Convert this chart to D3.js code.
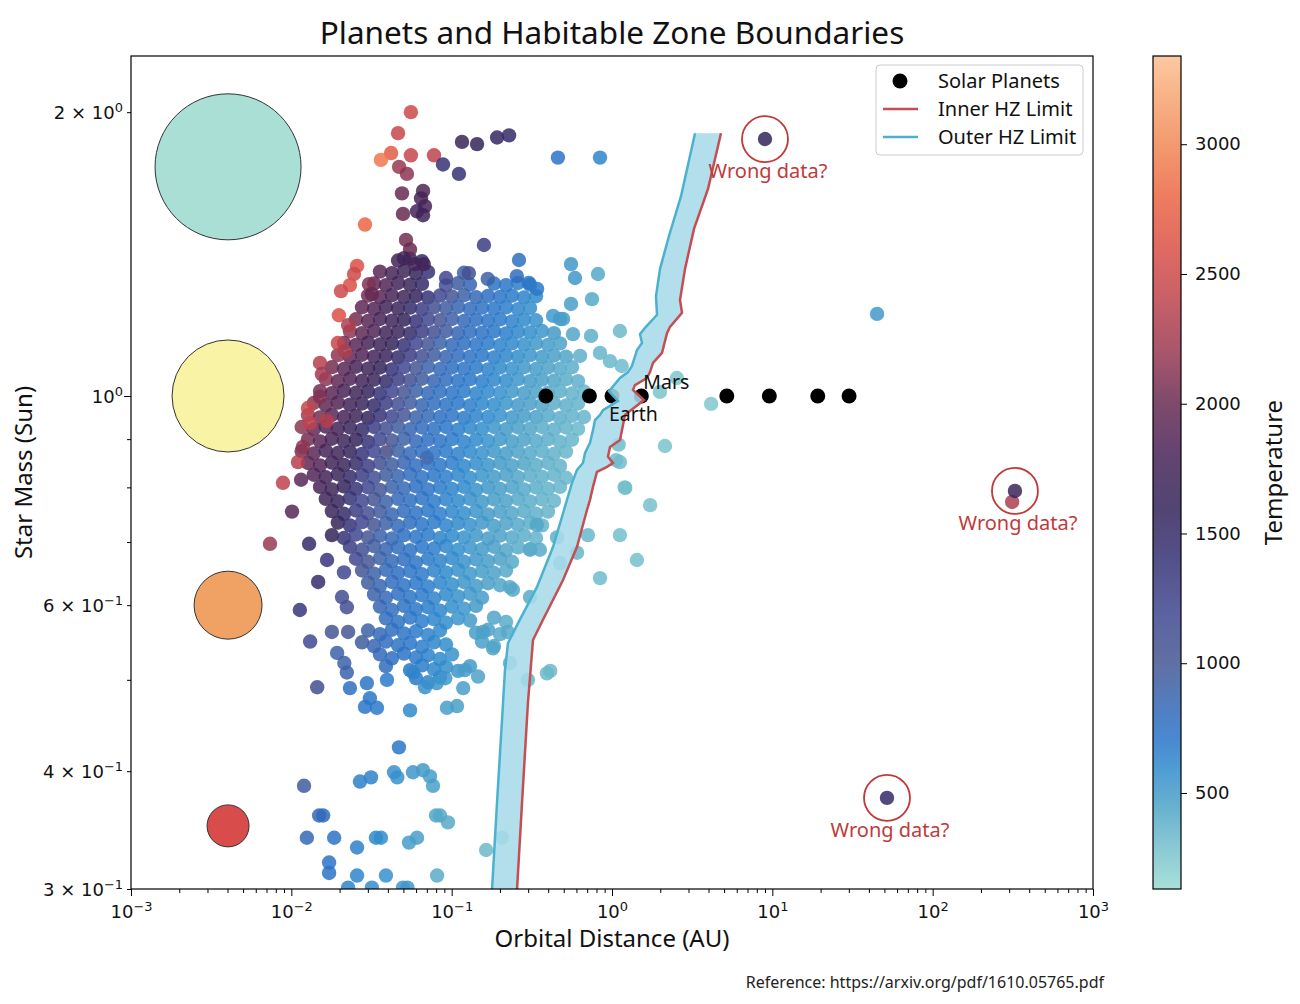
<!DOCTYPE html>
<html>
<head>
<meta charset="utf-8">
<script src="https://cdn.jsdelivr.net/npm/d3@7"></script>
<style>
  body { margin: 0; background: #fff; }
  .lbl { font-family: 'Noto Sans', 'Open Sans', sans-serif; fill: #111; }
</style>
</head>
<body>
<div class="canvas"></div>
<script>
// ---- data: [orbital distance (AU), star mass (Sun), temperature (K)] ----

// hot planets hidden deep in the cloud
const hiddenHot = [[.0401,0.877,3300],[.0702,0.860,2500]];

// dense cloud, upper part (mass > 1.03)
const coreUpper = [
  [.0463,1.392,1750],[.0550,1.398,1650],[.0653,1.390,1500],
  [.0357,1.355,1900],[.0424,1.350,1800],[.0504,1.357,1700],[.0599,1.349,1600],[.0712,1.354,1400],[.1194,1.351,900],
  [.0328,1.316,1950],[.0389,1.311,1850],[.0463,1.318,1750],[.0550,1.312,1650],[.0653,1.315,1500],[.0922,1.310,1100],[.1096,1.317,950],[.1301,1.313,850],[.1837,1.316,740],[.2183,1.311,700],[.2593,1.318,660],[.3081,1.312,620],
  [.0301,1.278,2050],[.0357,1.273,1900],[.0424,1.279,1800],[.0504,1.274,1700],[.0599,1.277,1600],[.0712,1.272,1400],[.0846,1.278,1200],[.1005,1.275,1020],[.1194,1.279,900],[.1419,1.273,820],[.1686,1.277,760],[.2002,1.274,720],[.2379,1.278,680],[.2826,1.272,640],[.3358,1.276,600],
  [.0276,1.242,1950],[.0328,1.237,1850],[.0389,1.243,1750],[.0463,1.238,1650],[.0550,1.241,1500],[.0653,1.236,1300],[.0776,1.242,1100],[.0922,1.239,950],[.1096,1.243,850],[.1301,1.237,780],[.1546,1.241,740],[.1837,1.238,700],[.2183,1.242,660],[.2593,1.236,620],[.3081,1.240,580],
  [.0253,1.206,2050],[.0301,1.201,1900],[.0357,1.207,1800],[.0424,1.202,1700],[.0504,1.205,1600],[.0599,1.200,1400],[.0712,1.206,1200],[.0846,1.203,1020],[.1005,1.207,900],[.1194,1.201,820],[.1419,1.205,760],[.1686,1.202,720],[.2002,1.206,680],[.2379,1.200,640],[.2826,1.205,600],[.3358,1.203,560],[.4740,1.207,490],
  [.0232,1.171,2150],[.0276,1.166,1950],[.0328,1.172,1850],[.0389,1.167,1750],[.0463,1.170,1650],[.0550,1.165,1500],[.0653,1.171,1300],[.0776,1.168,1100],[.0922,1.172,950],[.1096,1.166,850],[.1301,1.170,780],[.1546,1.167,740],[.1837,1.171,700],[.2183,1.165,660],[.2593,1.170,620],[.3081,1.168,580],[.3660,1.172,540],[.4349,1.166,500],
  [.0213,1.138,2050],[.0253,1.133,1900],[.0301,1.139,1800],[.0357,1.134,1700],[.0424,1.137,1600],[.0504,1.132,1400],[.0599,1.138,1200],[.0712,1.135,1020],[.0846,1.139,900],[.1005,1.133,820],[.1194,1.137,760],[.1419,1.134,720],[.1686,1.138,680],[.2002,1.132,640],[.2379,1.137,600],[.2826,1.134,560],[.3358,1.138,520],[.3990,1.133,490],[.4740,1.137,455],
  [.0195,1.105,2150],[.0232,1.100,1950],[.0276,1.106,1850],[.0328,1.101,1750],[.0389,1.104,1650],[.0463,1.099,1500],[.0550,1.105,1300],[.0653,1.102,1100],[.0776,1.106,950],[.0922,1.100,850],[.1096,1.104,780],[.1301,1.101,740],[.1546,1.105,700],[.1837,1.099,660],[.2183,1.104,620],[.2593,1.101,580],[.3081,1.105,540],[.3660,1.100,500],[.4349,1.104,470],[.5167,1.101,440],
  [.0179,1.073,2050],[.0213,1.068,1900],[.0253,1.074,1800],[.0301,1.069,1700],[.0357,1.072,1600],[.0424,1.067,1400],[.0504,1.073,1200],[.0599,1.070,1020],[.0712,1.074,900],[.0846,1.068,820],[.1005,1.072,760],[.1194,1.069,720],[.1419,1.073,680],[.1686,1.067,640],[.2002,1.072,600],[.2379,1.069,560],[.2826,1.073,520],[.3358,1.068,490],[.3990,1.072,455],[.4740,1.069,420],[.5632,1.073,390],
  [.0164,1.042,2150],[.0195,1.037,1950],[.0232,1.043,1850],[.0276,1.038,1750],[.0328,1.041,1650],[.0389,1.036,1500],[.0463,1.042,1300],[.0550,1.039,1100],[.0653,1.043,950],[.0776,1.037,850],[.0922,1.041,780],[.1096,1.038,740],[.1301,1.042,700],[.1546,1.036,660],[.1837,1.041,620],[.2183,1.038,580],[.2593,1.042,540],[.3081,1.037,500],[.3660,1.041,470],[.4349,1.038,440],[.5167,1.042,400],[.6139,1.037,380]
];

// dense cloud, middle part (0.79 - 1.03)
const coreMiddle = [
  [.0151,1.012,2050],[.0179,1.007,1900],[.0213,1.013,1800],[.0253,1.008,1700],[.0301,1.011,1600],[.0357,1.006,1400],[.0424,1.012,1200],[.0504,1.009,1020],[.0599,1.013,900],[.0712,1.007,820],[.0846,1.011,760],[.1005,1.008,720],[.1194,1.012,680],[.1419,1.006,640],[.1686,1.011,600],[.2002,1.008,560],[.2379,1.012,520],[.2826,1.007,490],[.3358,1.011,455],[.3990,1.008,420],[.4740,1.012,390],[.5632,1.006,370],[.6691,1.011,350],
  [.0138,0.983,2150],[.0164,0.978,1950],[.0195,0.984,1850],[.0232,0.979,1750],[.0276,0.982,1650],[.0328,0.977,1500],[.0389,0.983,1300],[.0463,0.980,1100],[.0550,0.984,950],[.0653,0.978,850],[.0776,0.982,780],[.0922,0.979,740],[.1096,0.983,700],[.1301,0.977,660],[.1546,0.982,620],[.1837,0.979,580],[.2183,0.983,540],[.2593,0.978,500],[.3081,0.982,470],[.3660,0.979,440],[.4349,0.983,400],[.5167,0.977,380],[.6139,0.982,360],
  [.0127,0.954,2250],[.0151,0.949,2050],[.0179,0.955,1900],[.0213,0.950,1800],[.0253,0.953,1700],[.0301,0.948,1600],[.0357,0.954,1400],[.0424,0.951,1200],[.0504,0.955,1020],[.0599,0.949,900],[.0712,0.953,820],[.0846,0.950,760],[.1005,0.954,720],[.1194,0.948,680],[.1419,0.953,640],[.1686,0.950,600],[.2002,0.954,560],[.2379,0.949,520],[.2826,0.953,490],[.3358,0.950,455],[.3990,0.954,420],[.4740,0.948,390],[.5632,0.953,370],[.6691,0.950,350],
  [.0116,0.927,2150],[.0138,0.922,1950],[.0164,0.928,1850],[.0195,0.923,1750],[.0232,0.926,1650],[.0276,0.921,1500],[.0328,0.927,1300],[.0389,0.924,1100],[.0463,0.928,950],[.0550,0.922,850],[.0653,0.926,780],[.0776,0.923,740],[.0922,0.927,700],[.1096,0.921,660],[.1301,0.926,620],[.1546,0.923,580],[.1837,0.927,540],[.2183,0.922,500],[.2593,0.926,470],[.3081,0.923,440],[.3660,0.927,400],[.4349,0.921,380],[.5167,0.926,360],[.6139,0.923,340],
  [.0127,0.900,2050],[.0151,0.895,1900],[.0179,0.901,1800],[.0213,0.896,1700],[.0253,0.899,1600],[.0301,0.894,1400],[.0357,0.900,1200],[.0424,0.897,1020],[.0504,0.901,900],[.0599,0.895,820],[.0712,0.899,760],[.0846,0.896,720],[.1005,0.900,680],[.1194,0.894,640],[.1419,0.899,600],[.1686,0.896,560],[.2002,0.900,520],[.2379,0.895,490],[.2826,0.899,455],[.3358,0.896,420],[.3990,0.900,390],[.4740,0.894,370],[.5632,0.899,350],
  [.0116,0.874,2050],[.0138,0.869,1900],[.0164,0.875,1800],[.0195,0.870,1700],[.0232,0.873,1600],[.0276,0.868,1400],[.0328,0.874,1200],[.0389,0.871,1020],[.0463,0.875,900],[.0550,0.869,820],[.0653,0.873,760],[.0776,0.870,720],[.0922,0.874,680],[.1096,0.868,640],[.1301,0.873,600],[.1546,0.870,560],[.1837,0.874,520],[.2183,0.869,490],[.2593,0.873,455],[.3081,0.870,420],[.3660,0.874,390],[.4349,0.868,370],[.5167,0.873,350],
  [.0127,0.849,1950],[.0151,0.844,1850],[.0179,0.850,1750],[.0213,0.845,1650],[.0253,0.848,1500],[.0301,0.843,1300],[.0357,0.849,1100],[.0424,0.846,950],[.0504,0.850,850],[.0599,0.844,780],[.0712,0.848,740],[.0846,0.845,700],[.1005,0.849,660],[.1194,0.843,620],[.1419,0.848,580],[.1686,0.845,540],[.2002,0.849,500],[.2379,0.844,470],[.2826,0.848,440],[.3358,0.845,400],[.3990,0.849,380],[.4740,0.843,360],
  [.0138,0.825,1850],[.0164,0.820,1750],[.0195,0.826,1650],[.0232,0.821,1500],[.0276,0.824,1300],[.0328,0.819,1100],[.0389,0.825,950],[.0463,0.822,850],[.0550,0.826,780],[.0653,0.820,740],[.0776,0.824,700],[.0922,0.821,660],[.1096,0.825,620],[.1301,0.819,580],[.1546,0.824,540],[.1837,0.821,500],[.2183,0.825,470],[.2593,0.820,440],[.3081,0.824,400],[.3660,0.821,380],[.4349,0.825,360],[.5167,0.819,340],
  [.0151,0.801,1800],[.0179,0.796,1700],[.0213,0.802,1600],[.0253,0.797,1400],[.0301,0.800,1200],[.0357,0.795,1020],[.0424,0.801,900],[.0504,0.798,820],[.0599,0.802,760],[.0712,0.796,720],[.0846,0.800,680],[.1005,0.797,640],[.1194,0.801,600],[.1419,0.795,560],[.1686,0.800,520],[.2002,0.797,490],[.2379,0.801,455],[.2826,0.796,420],[.3358,0.800,390],[.3990,0.797,370],[.4740,0.801,350]
];

// dense cloud, lower part (0.50 - 0.79)
const coreLower = [
  [.0164,0.778,1700],[.0195,0.773,1600],[.0232,0.779,1400],[.0276,0.774,1200],[.0328,0.777,1020],[.0389,0.772,900],[.0463,0.778,820],[.0550,0.775,760],[.0653,0.779,720],[.0776,0.773,680],[.0922,0.777,640],[.1096,0.774,600],[.1301,0.778,560],[.1546,0.772,520],[.1837,0.777,490],[.2183,0.774,455],[.2593,0.778,420],[.3081,0.773,390],[.3660,0.777,370],[.4349,0.774,350],
  [.0179,0.755,1650],[.0213,0.750,1500],[.0253,0.756,1300],[.0301,0.751,1100],[.0357,0.754,950],[.0424,0.749,850],[.0504,0.755,780],[.0599,0.752,740],[.0712,0.756,700],[.0846,0.750,660],[.1005,0.754,620],[.1194,0.751,580],[.1419,0.755,540],[.1686,0.749,500],[.2002,0.754,470],[.2379,0.751,440],[.2826,0.755,400],[.3358,0.750,380],[.3990,0.754,360],
  [.0195,0.734,1600],[.0232,0.729,1400],[.0276,0.735,1200],[.0328,0.730,1020],[.0389,0.733,900],[.0463,0.728,820],[.0550,0.734,760],[.0653,0.731,720],[.0776,0.735,680],[.0922,0.729,640],[.1096,0.733,600],[.1301,0.730,560],[.1546,0.734,520],[.1837,0.728,490],[.2183,0.733,455],[.2593,0.730,420],[.3081,0.734,390],[.3660,0.729,370],
  [.0179,0.712,1600],[.0213,0.707,1400],[.0253,0.713,1200],[.0301,0.708,1020],[.0357,0.711,900],[.0424,0.706,820],[.0504,0.712,760],[.0599,0.709,720],[.0712,0.713,680],[.0846,0.707,640],[.1005,0.711,600],[.1194,0.708,560],[.1419,0.712,520],[.1686,0.706,490],[.2002,0.711,455],[.2379,0.708,420],[.2826,0.712,390],[.3358,0.707,370],
  [.0232,0.692,1300],[.0276,0.687,1100],[.0328,0.693,950],[.0389,0.688,850],[.0463,0.691,780],[.0550,0.686,740],[.0653,0.692,700],[.0776,0.689,660],[.0922,0.693,620],[.1096,0.687,580],[.1301,0.691,540],[.1546,0.688,500],[.1837,0.692,470],[.2183,0.686,440],[.2593,0.691,400],[.3081,0.688,380],
  [.0253,0.672,1200],[.0301,0.667,1020],[.0357,0.673,900],[.0424,0.668,820],[.0504,0.671,760],[.0599,0.666,720],[.0712,0.672,680],[.0846,0.669,640],[.1005,0.673,600],[.1194,0.667,560],[.1419,0.671,520],[.1686,0.668,490],[.2002,0.672,455],[.2379,0.667,420],
  [.0276,0.653,1020],[.0328,0.648,900],[.0389,0.654,820],[.0463,0.649,760],[.0550,0.652,720],[.0653,0.647,680],[.0776,0.653,640],[.0922,0.650,600],[.1096,0.654,560],[.1301,0.648,520],[.1546,0.652,490],[.1837,0.649,455],[.2183,0.653,420],
  [.0301,0.634,950],[.0357,0.629,850],[.0424,0.635,780],[.0504,0.630,740],[.0599,0.633,700],[.0712,0.628,660],[.0846,0.634,620],[.1005,0.631,580],[.1194,0.635,540],[.1419,0.629,500],[.1686,0.633,470],[.2002,0.630,440],
  [.0328,0.616,900],[.0389,0.611,820],[.0463,0.617,760],[.0550,0.612,720],[.0653,0.615,680],[.0776,0.610,640],[.0922,0.616,600],[.1096,0.613,560],[.1301,0.617,520],[.1546,0.611,490],
  [.0357,0.598,850],[.0424,0.593,780],[.0504,0.599,740],[.0599,0.594,700],[.0712,0.597,660],[.0846,0.592,620],[.1005,0.598,580],[.1194,0.595,540],[.1419,0.599,500],
  [.0389,0.581,780],[.0463,0.576,740],[.0550,0.582,700],[.0653,0.577,660],[.0776,0.580,620],[.0922,0.575,580],[.1096,0.581,540],[.1301,0.578,500],[.1837,0.582,440],[.2183,0.576,400],
  [.0301,0.564,900],[.0357,0.559,820],[.0424,0.565,760],[.0504,0.560,720],[.0599,0.563,680],[.0712,0.558,640],[.0846,0.564,600],[.1419,0.561,490],[.1686,0.565,455],[.2002,0.559,420],
  [.0276,0.548,950],[.0328,0.543,850],[.0389,0.549,780],[.0463,0.544,740],[.0550,0.547,700],[.0653,0.542,660],[.0776,0.548,620],[.0922,0.545,580],[.1546,0.549,470],[.1837,0.543,440],
  [.0357,0.532,820],[.0424,0.527,760],[.0504,0.533,720],[.0599,0.528,680],[.0712,0.531,640],[.0846,0.526,600],[.1005,0.532,560],
  [.0389,0.517,780],[.0550,0.512,700],[.0653,0.518,660],[.0776,0.513,620],[.0922,0.516,580],[.1096,0.511,540],[.1301,0.517,500],
  [.0599,0.502,680],[.0712,0.497,640],[.0846,0.503,600]
];

// sparse planets around massive stars (top of the plot)
const highMass = [
  [.0557,2.00,2500],[.0463,1.90,2450],[.0419,1.81,2700],[.0362,1.78,2900],[.0557,1.80,2450],[.0776,1.80,2400],
  [.0470,1.75,2200],[.0526,1.72,2150],[.0490,1.64,2000],[.0663,1.65,1850],[.0644,1.62,1800],[.0682,1.59,1800],
  [.0608,1.57,1750],[.0663,1.555,1700],[.0497,1.56,2000],[.0288,1.52,2800],[.116,1.86,1650],[.144,1.85,1600],
  [.192,1.88,1550],[.228,1.89,1500],[.0883,1.76,1400],[.111,1.72,1400],[.460,1.79,720],[.842,1.79,620],
  [.159,1.446,1300],[.0519,1.464,2050],[.0550,1.43,2000],[.0504,1.40,1700],[.0590,1.38,1750],[.0670,1.38,1750]
];

// hottest planets along the left edge of the cloud
const hotEdge = [
  [.0257,1.374,2600],[.0246,1.347,2500],[.0232,1.311,2600],[.0204,1.292,2500],[.0305,1.314,2100],[.0318,1.282,2000],
  [.0198,1.218,2600],[.0226,1.189,2300],[.0195,1.138,2450],[.0216,1.116,2300],[.0151,1.084,2350],[.0155,1.055,2250],
  [.0151,0.998,2100],[.0127,0.971,2450],[.0131,0.936,2400],[.0167,0.941,2350],[.0118,0.883,2150],[.0110,0.851,2350],
  [.0115,0.815,1900],[.00887,0.809,2400],[.0101,0.754,1900],[.00736,0.697,2200]
];

// scattered planets below the dense cloud
const lowerSparse = [
  [.0145,0.491,1100],[.0232,0.490,750],[.0296,0.496,720],[.0309,0.478,700],[.0288,0.468,700],[.0342,0.467,680],
  [.0550,0.464,600],[.0935,0.467,480],[.108,0.469,470],[.0395,0.500,680],[.0576,0.509,620],[.0682,0.491,560],
  [.0806,0.496,540],[.0912,0.502,520],[.121,0.512,480],[.118,0.490,470],[.146,0.504,450],[.181,0.540,440],
  [.157,0.562,460],[.231,0.521,400],[.224,0.562,410],[.0113,0.593,1350],[.0129,0.697,1500],[.0167,0.670,1350],
  [.0147,0.635,1450],[.0213,0.650,1200],[.0207,0.612,1100],[.0222,0.597,1100],[.0179,0.562,1000],[.0226,0.562,1000],
  [.0131,0.549,1150],[.0193,0.534,900],[.0214,0.521,900],[.0222,0.509,880]
];

// cool planets on the right side of the cloud
const coolEdge = [
  [.393,0.508,330],[.412,0.511,330],[.299,0.500,360],[.231,0.627,420],[.241,0.623,420],[.308,0.612,400],
  [.340,0.730,430],[.308,0.687,410],[.355,0.687,410],[.454,0.708,380],[.708,0.712,340],[1.12,0.712,300],
  [.842,0.641,310],[1.43,0.670,290],[1.73,0.766,280],[1.21,0.799,300],[1.12,0.851,310],[.605,0.682,350],
  [.474,0.665,380],[2.54,1.045,260],[4.15,0.981,240],[2.14,0.885,270],[1.99,1.01,270],[1.12,1.172,330],
  [.740,1.158,380],[.818,1.347,420],[.555,1.380,520],[.588,1.334,520],[.555,1.252,470],[.750,1.267,420],
  [.263,1.394,750],[.429,1.216,500],[.495,1.207,480],[.571,1.163,430],[.632,1.103,380],[.842,1.111,350],
  [.971,1.089,330],[1.15,1.076,310],[.168,1.331,900],[.255,1.340,780],[.303,1.318,720],[.341,1.299,680],
  [.0922,1.334,1200],[.128,1.350,1100],[45.0,1.222,500],[1.10,0.888,310],[1.06,0.855,310],[1.20,0.800,300]
];

// planets around the smallest stars
const lowMass = [
  [.0469,0.424,700],[.0120,0.386,950],[.0268,0.390,650],[.0314,0.394,640],[.0437,0.399,560],[.0458,0.394,560],
  [.0574,0.399,520],[.0662,0.401,500],[.0732,0.395,480],[.0765,0.386,470],[.0149,0.359,820],[.0158,0.359,800],
  [.0798,0.359,430],[.0846,0.359,420],[.0948,0.353,410],[.0125,0.340,820],[.0185,0.340,720],[.0337,0.340,600],
  [.0362,0.340,590],[.0257,0.332,650],[.0542,0.336,480],[.0608,0.340,470],[.0172,0.320,720],[.0172,0.312,720],
  [.0257,0.310,620],[.0389,0.310,560],[.0811,0.310,400],[.164,0.330,330],[.206,0.340,320],[.0226,0.301,630],
  [.0318,0.301,580],[.0497,0.301,520],[.0530,0.301,520]
];

// suspicious entries
const oddPlanets = [[9.0,1.873,1600],[313,0.772,2300],[326,0.793,1650],[51.9,0.3748,1500]];
const wrongDist = [9.0, 326, 51.9];
const wrongMass = [1.873, 0.793, 0.3748];

// solar system
const solarNames = ['Mercury','Venus','Earth','Mars','Jupiter','Saturn','Uranus','Neptune'];
const solarDist = [0.387, 0.723, 1.0, 1.524, 5.20, 9.58, 19.2, 30.1];
const solarMass = [1, 1, 1, 1, 1, 1, 1, 1];

// habitable zone limits: star mass -> distance (AU)
const hzOuterMass = [1.90,1.629,1.478,1.364,1.276,1.219,1.181,1.163,1.138,1.119,1.076,1.060,1.045,1.012,0.988,0.966,0.955,0.943,0.920,0.892,0.870,0.849,0.835,0.809,0.751,0.692,0.627,0.574,0.547,0.512,0.453,0.370,0.299,0.292];
const hzOuterDist = [3.295,2.694,2.267,1.993,1.881,1.909,1.606,1.495,1.539,1.432,1.332,1.258,1.122,0.958,1.090,0.879,0.842,0.783,0.761,0.729,0.679,0.659,0.605,0.563,0.495,0.429,0.340,0.259,0.2245,0.215,0.206,0.1917,0.1784,0.177];
const hzInnerMass = [1.90,1.658,1.504,1.364,1.264,1.225,1.184,1.166,1.111,1.084,1.060,1.045,1.027,1.015,0.990,0.955,0.920,0.898,0.883,0.862,0.849,0.841,0.831,0.801,0.776,0.757,0.692,0.638,0.579,0.551,0.4725,0.370,0.299,0.292];
const hzInnerDist = [4.784,3.970,3.246,2.853,2.656,2.733,2.300,2.203,2.051,1.802,1.726,1.653,1.391,1.352,1.583,1.205,1.154,1.122,0.972,0.944,1.014,0.931,0.806,0.761,0.729,0.698,0.605,0.495,0.371,0.3215,0.299,0.2746,0.2555,0.254];

// star type markers on the left
const starDist = 0.00403;
const starMass = [1.75, 1.0, 0.6, 0.35];

// colour map (temperature -> colour)
const tempStops = [130,300,450,600,700,800,1000,1200,1400,1600,1800,2000,2200,2400,2600,2800,3000,3200,3340];
const colorStops = ['#99dbd1','#73becc','#4da2c8','#2f8acc','#2a75c8','#316aba','#445794','#3f468f','#363175','#342459','#472357','#672a52','#993852','#be434d','#da5046','#eb6644','#f18857','#f8a775','#fcbf92'];
const cbTicks = [500,1000,1500,2000,2500,3000];

// tick labels
const xTickExp = ['−3','−2','−1','0','1','2','3'];
const yLabelTicks = [2, 1, 0.6, 0.4, 0.3];
const yLabelMant = ['2', '', '6', '4', '3'];
const yLabelExp = ['0', '0', '−1', '−1', '−1'];

// ---- layout / style ----
const W = 1300, H = 1004;
const plot = { left: 131, right: 1093, top: 56, bottom: 889 };
const cb = { left: 1153, width: 28 };
const starRadius = [73, 56, 34, 21];
const starColor = ['#aadfd6', '#f9f3a6', '#f0a264', '#d94c4c'];
const ALPHA = 0.85;
const RED = '#c44e52', BLUE = '#4ab2cf', NOTE = '#bf3a3a';
const TICK_FONT = "'DejaVu Sans', sans-serif";

const svg = d3.select('.canvas').append('svg').attr('width', W).attr('height', H);
const defs = svg.append('defs');
defs.append('clipPath').attr('id', 'plotClip').append('rect')
  .attr('x', plot.left).attr('y', plot.top)
  .attr('width', plot.right - plot.left).attr('height', plot.bottom - plot.top);

const x = d3.scaleLog().domain([1e-3, 1e3]).range([plot.left, plot.right]);
const y = d3.scaleLog().domain([0.3, 2.294]).range([plot.bottom, plot.top]);
const color = d3.scaleLinear().domain(tempStops).range(colorStops).clamp(true);

const graph = svg.append('g').attr('clip-path', 'url(#plotClip)');

// star markers
graph.selectAll('circle.star').data(starMass).enter().append('circle')
  .attr('cx', x(starDist)).attr('cy', d => y(d))
  .attr('r', (d, i) => starRadius[i])
  .attr('fill', (d, i) => starColor[i])
  .attr('stroke', '#333').attr('stroke-width', 1);

// exoplanets
const planets = [].concat(hiddenHot, coreUpper, coreMiddle, coreLower, highMass, hotEdge, lowerSparse, coolEdge, lowMass, oddPlanets);
graph.selectAll('circle.planet').data(planets).enter().append('circle')
  .attr('cx', d => x(d[0])).attr('cy', d => y(d[1])).attr('r', 7.2)
  .attr('fill', d => color(d[2])).attr('fill-opacity', ALPHA);

// solar planets
graph.selectAll('circle.solar').data(solarDist).enter().append('circle')
  .attr('cx', d => x(d)).attr('cy', (d, i) => y(solarMass[i])).attr('r', 7.5)
  .attr('fill', '#000');

// habitable zone band
const outerPts = hzOuterMass.map((m, i) => [hzOuterDist[i], m]);
const innerPts = hzInnerMass.map((m, i) => [hzInnerDist[i], m]);
const hzLine = d3.line().x(d => x(d[0])).y(d => y(d[1]));
graph.append('path')
  .attr('d', hzLine(outerPts.concat(innerPts.slice().reverse())) + 'Z')
  .attr('fill', '#a7dbe8').attr('fill-opacity', 0.88);
graph.append('path').attr('d', hzLine(innerPts))
  .attr('fill', 'none').attr('stroke', RED).attr('stroke-width', 2.5);
graph.append('path').attr('d', hzLine(outerPts))
  .attr('fill', 'none').attr('stroke', BLUE).attr('stroke-width', 2.5);

// "Wrong data?" notes
const notes = svg.append('g');
wrongDist.forEach((d, i) => {
  notes.append('circle').attr('cx', x(d)).attr('cy', y(wrongMass[i])).attr('r', 23)
    .attr('fill', 'none').attr('stroke', NOTE).attr('stroke-width', 1.8);
  notes.append('text').attr('class', 'lbl').attr('x', x(d) + 3).attr('y', y(wrongMass[i]) + 39)
    .attr('text-anchor', 'middle').style('font-size', '20px').style('fill', NOTE)
    .text('Wrong data?');
});

// Earth / Mars labels
const earth = solarNames.indexOf('Earth'), mars = solarNames.indexOf('Mars');
svg.append('text').attr('class', 'lbl').attr('x', x(solarDist[earth]) - 3).attr('y', y(1) + 25)
  .style('font-size', '19.5px').text('Earth');
svg.append('text').attr('class', 'lbl').attr('x', x(solarDist[mars]) + 2).attr('y', y(1) - 7)
  .style('font-size', '19.5px').text('Mars');

// frame
svg.append('rect').attr('x', plot.left).attr('y', plot.top)
  .attr('width', plot.right - plot.left).attr('height', plot.bottom - plot.top)
  .attr('fill', 'none').attr('stroke', '#000').attr('stroke-width', 1.2);

// superscript helper
const powLabel = (text, mant, exp) => {
  text.text(null);
  text.append('tspan').text(mant ? mant + ' × 10' : '10');
  text.append('tspan').attr('dy', '-0.55em').style('font-size', '0.72em').text(exp);
};
const tickStyle = g => {
  g.select('.domain').remove();
  g.selectAll('.tick text').style('font-family', TICK_FONT).style('font-size', '18px').style('fill', '#111');
};

// x axis
const xMajor = [1e-3, 1e-2, 1e-1, 1, 10, 100, 1000];
const xMinor = x.ticks().filter(t => !xMajor.some(m => Math.abs(m - t) / m < 1e-6));
svg.append('g').attr('transform', `translate(0,${plot.bottom})`)
  .call(d3.axisBottom(x).tickValues(xMinor).tickSize(4).tickFormat(''))
  .call(tickStyle);
const xAxis = svg.append('g').attr('transform', `translate(0,${plot.bottom})`)
  .call(d3.axisBottom(x).tickValues(xMajor).tickSize(7).tickPadding(9))
  .call(tickStyle);
xAxis.selectAll('.tick text').each(function(d, i) { powLabel(d3.select(this), '', xTickExp[i]); });

// y axis
const yTicks = y.ticks();
const yAxis = svg.append('g').attr('transform', `translate(${plot.left},0)`)
  .call(d3.axisLeft(y).tickValues(yTicks).tickSize(4).tickPadding(6).tickFormat(''))
  .call(tickStyle);
yAxis.selectAll('.tick line').filter(d => d === 1).attr('x2', -7);
yAxis.selectAll('.tick').filter(d => yLabelTicks.includes(d)).each(function(d) {
  const i = yLabelTicks.indexOf(d);
  const t = d3.select(this).select('text').attr('x', -8).attr('dy', '0.36em');
  powLabel(t, yLabelMant[i], yLabelExp[i]);
});

// axis titles
svg.append('text').attr('class', 'lbl').attr('x', (plot.left + plot.right) / 2).attr('y', 44)
  .attr('text-anchor', 'middle').style('font-size', '31.5px').text('Planets and Habitable Zone Boundaries');
svg.append('text').attr('class', 'lbl').attr('x', (plot.left + plot.right) / 2).attr('y', 947)
  .attr('text-anchor', 'middle').style('font-size', '24px').text('Orbital Distance (AU)');
svg.append('text').attr('class', 'lbl')
  .attr('transform', `translate(32,${(plot.top + plot.bottom) / 2}) rotate(-90)`)
  .attr('text-anchor', 'middle').style('font-size', '24px').text('Star Mass (Sun)');

// legend
const legend = svg.append('g').attr('transform', 'translate(876,65)');
legend.append('rect').attr('width', 207).attr('height', 90).attr('rx', 4)
  .attr('fill', '#fff').attr('fill-opacity', 0.8).attr('stroke', '#ccc');
legend.append('circle').attr('cx', 24).attr('cy', 16).attr('r', 7.5).attr('fill', '#000');
legend.append('line').attr('x1', 7).attr('x2', 42).attr('y1', 44).attr('y2', 44).attr('stroke', RED).attr('stroke-width', 2.5);
legend.append('line').attr('x1', 7).attr('x2', 42).attr('y1', 72).attr('y2', 72).attr('stroke', BLUE).attr('stroke-width', 2.5);
['Solar Planets', 'Inner HZ Limit', 'Outer HZ Limit'].forEach((t, i) => {
  legend.append('text').attr('class', 'lbl').attr('x', 62).attr('y', 23 + i * 28)
    .style('font-size', '20px').text(t);
});

// colour bar
const cbScale = d3.scaleLinear().domain([130, 3340]).range([plot.bottom, plot.top]);
const grad = defs.append('linearGradient').attr('id', 'cbGrad')
  .attr('x1', 0).attr('y1', 1).attr('x2', 0).attr('y2', 0);
tempStops.forEach((t, i) => {
  grad.append('stop').attr('offset', (t - 130) / (3340 - 130)).attr('stop-color', colorStops[i]);
});
svg.append('rect').attr('x', cb.left).attr('y', plot.top).attr('width', cb.width)
  .attr('height', plot.bottom - plot.top).attr('fill', 'url(#cbGrad)').attr('fill-opacity', ALPHA);
svg.append('rect').attr('x', cb.left).attr('y', plot.top).attr('width', cb.width)
  .attr('height', plot.bottom - plot.top).attr('fill', 'none').attr('stroke', '#000').attr('stroke-width', 1.2);
svg.append('g').attr('transform', `translate(${cb.left + cb.width},0)`)
  .call(d3.axisRight(cbScale).tickValues(cbTicks).tickSize(6).tickPadding(8).tickFormat(d3.format('d')))
  .call(tickStyle);
svg.append('text').attr('class', 'lbl')
  .attr('transform', `translate(1282,${(plot.top + plot.bottom) / 2}) rotate(-90)`)
  .attr('text-anchor', 'middle').style('font-size', '24px').text('Temperature');

// source note
svg.append('text').attr('class', 'lbl').attr('x', 1104).attr('y', 988)
  .attr('text-anchor', 'end').style('font-size', '16px').style('fill', '#222')
  .text('Reference: https://arxiv.org/pdf/1610.05765.pdf');
</script>
</body>
</html>
